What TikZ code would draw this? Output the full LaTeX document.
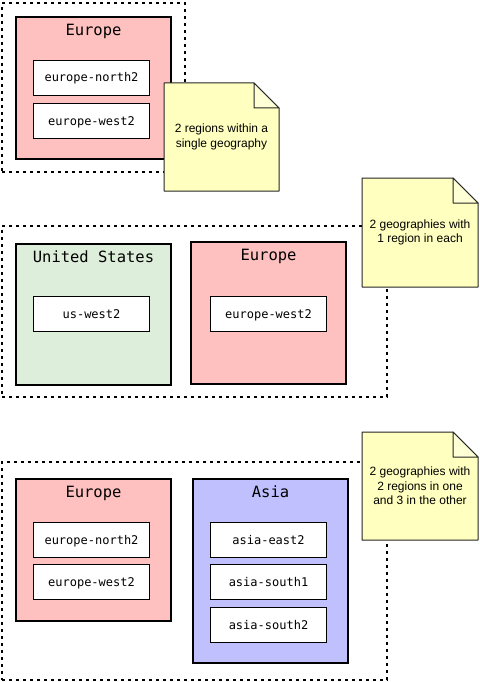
\documentclass[tikz,border=0pt]{standalone}
\usepackage{fontspec}
\setmainfont{Liberation Sans}
\newfontfamily\monofont{DejaVu Sans Mono}
\definecolor{eufill}{HTML}{FFC0C0}
\definecolor{usfill}{HTML}{DDEFDA}
\definecolor{asfill}{HTML}{C0C0FF}
\definecolor{notefill}{HTML}{FFFFC0}
\definecolor{foldfill}{HTML}{FFFFD6}
\newcommand\notepaper[4]{%
  \filldraw[fill=notefill, draw=black!85, line width=1pt, line join=round]
    (#1,#2) -- ({#3-25},#2) -- (#3,{#2+25}) -- (#3,#4) -- (#1,#4) -- cycle;
  \filldraw[fill=foldfill, draw=black!85, line width=1pt, line join=round]
    ({#3-25},#2) -- ({#3-25},{#2+25}) -- (#3,{#2+25}) -- cycle;
}
\begin{document}
\begin{tikzpicture}[x=1pt,y=-1pt,
  groupbox/.style={draw, line width=2pt, dash pattern=on 3pt off 4pt, anchor=north west, inner sep=0pt},
  geobox/.style={draw, line width=2pt, anchor=north west, inner sep=0pt, minimum width=155pt},
  regionbox/.style={draw, line width=1pt, fill=white, anchor=north west, minimum width=116pt, minimum height=35pt, inner sep=0pt, font=\monofont\fontsize{12}{14}\selectfont, text height=9.5pt, text depth=1.5pt},
  geotitle/.style={anchor=base, font=\monofont\fontsize{15.5}{18}\selectfont, inner sep=0pt},
  notetext/.style={font=\fontsize{12}{14.5}\selectfont, align=center, inner sep=0pt}]
\useasboundingbox (0,0) rectangle (479,682);
% groups
\node[groupbox, minimum width=183pt, minimum height=169pt] (g1) at (1,2) {};
\node[groupbox, minimum width=385pt, minimum height=171pt] (g2) at (1,225) {};
\node[groupbox, minimum width=385pt, minimum height=218pt] (g3) at (1,461) {};
% group 1
\node[geobox, fill=eufill, minimum height=142pt] (eu1) at (15,16) {};
\node[geotitle] (eu1t) at ([yshift=-20pt]eu1.north) {Europe};
\node[regionbox] (eun1) at (33,60) {europe-north2};
\node[regionbox] (euw1) at (33,103) {europe-west2};
% group 2
\node[geobox, fill=usfill, minimum height=141pt] (us2) at (15,243) {};
\node[geotitle] (us2t) at ([yshift=-19pt]us2.north) {United States};
\node[regionbox] (usw2) at (33,296) {us-west2};
\node[geobox, fill=eufill, minimum height=142pt] (eu2) at (190,241) {};
\node[geotitle] (eu2t) at ([yshift=-19pt]eu2.north) {Europe};
\node[regionbox] (euw2) at (210,296) {europe-west2};
% group 3
\node[geobox, fill=eufill, minimum height=142pt] (eu3) at (15,478) {};
\node[geotitle] (eu3t) at ([yshift=-19pt]eu3.north) {Europe};
\node[regionbox] (eun3) at (33,522) {europe-north2};
\node[regionbox] (euw3) at (33,564) {europe-west2};
\node[geobox, fill=asfill, minimum height=184pt] (as3) at (192,478) {};
\node[geotitle] (as3t) at ([yshift=-19pt]as3.north) {Asia};
\node[regionbox] (ase3) at (210,522) {asia-east2};
\node[regionbox] (ass13) at (210,564) {asia-south1};
\node[regionbox] (ass23) at (210,607) {asia-south2};
% notes
\notepaper{164}{83}{279}{191}
\node[notetext] (n1) at (221.5,137) {2 regions within a\\single geography};
\notepaper{362}{178}{478}{287}
\node[notetext] (n2) at (420,232.5) {2 geographies with\\1 region in each};
\notepaper{362}{432}{478}{540}
\node[notetext] (n3) at (420,486) {2 geographies with\\2 regions in one\\and 3 in the other};
\end{tikzpicture}
\end{document}
